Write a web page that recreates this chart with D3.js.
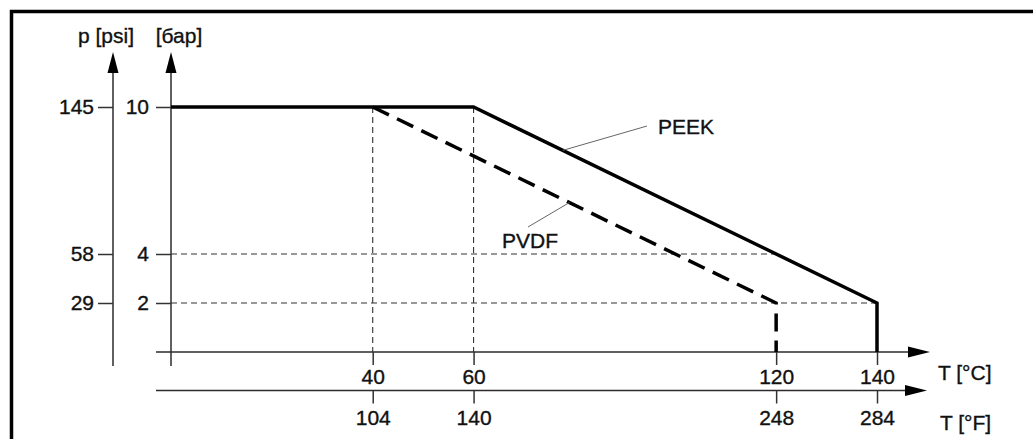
<!DOCTYPE html>
<meta charset="utf-8">
<script src="https://cdn.jsdelivr.net/npm/d3@7"></script>
<style>
    body {margin: 0; background: #fff;}
    #chart text {font-family: "Liberation Sans", Arial, sans-serif; font-size: 21px; fill: #111;
        stroke: #111; stroke-width: 0.35px;}
    .axis path.domain {display: none;}
    .axis line {stroke: #333; stroke-width: 1.5;}
</style>

<div id="chart"></div>

<script>
    // values
    let tempC = [40, 60, 120, 140];
    let tempF = [104, 140, 248, 284];
    let barTicks = [10, 4, 2];
    let psiTicks = [145, 58, 29];

    let peekT = [0, 60, 140, 140];
    let peekP = [10, 10, 2, 0];
    let pvdfT = [40, 120, 120];
    let pvdfP = [10, 2, 0];

    // thin dashed helper lines
    let guideVT = [40, 60];
    let guideHP = [4, 2];
    let guideHT = [120, 140];

    let width = 1033, height = 439;

    let x = d3.scaleLinear().domain([0, 140]).range([171, 877]);
    let xF = d3.scaleLinear().domain([32, 284]).range([171, 877]);
    let y = d3.scaleLinear().domain([0, 10]).range([352, 107]);
    let yPsi = d3.scaleLinear().domain([0, 145]).range([352, 107]);

    let svg = d3.select("#chart").append("svg")
        .attr("width", width)
        .attr("height", height);

    // frame (top and left edges visible)
    svg.append("path")
        .attr("d", "M11.5,439 V11.5 H1033")
        .attr("fill", "none")
        .attr("stroke", "#000")
        .attr("stroke-width", 3.5);

    // guides
    svg.selectAll(".gv")
        .data(guideVT)
        .enter().append("line")
        .attr("x1", d => x(d)).attr("x2", d => x(d))
        .attr("y1", y(10)).attr("y2", y(0))
        .attr("stroke", "#333").attr("stroke-width", 1.1)
        .attr("stroke-dasharray", "6,4");

    svg.selectAll(".gh")
        .data(guideHP)
        .enter().append("line")
        .attr("x1", x(0)).attr("x2", (d, i) => x(guideHT[i]))
        .attr("y1", d => y(d)).attr("y2", d => y(d))
        .attr("stroke", "#333").attr("stroke-width", 1.1)
        .attr("stroke-dasharray", "6,4");

    // axes lines with arrows
    let axisColor = "#2e2a2e";
    function arrowUp(cx, tip) {
        return "M" + cx + "," + tip + " L" + (cx - 5.5) + "," + (tip + 21) + " L" + (cx + 5.5) + "," + (tip + 21) + "Z";
    }
    function arrowRight(tip, cy) {
        return "M" + tip + "," + cy + " L" + (tip - 22) + "," + (cy - 5.5) + " L" + (tip - 22) + "," + (cy + 5.5) + "Z";
    }

    // y axes
    [113, 171].forEach(function(cx) {
        svg.append("line")
            .attr("x1", cx).attr("x2", cx)
            .attr("y1", 60).attr("y2", 366)
            .attr("stroke", axisColor).attr("stroke-width", 1.5);
        svg.append("path").attr("d", arrowUp(cx, 52)).attr("fill", "#000");
    });

    // x axes
    [[352, 930], [390.5, 927]].forEach(function(a) {
        svg.append("line")
            .attr("x1", 156).attr("x2", a[1] - 10)
            .attr("y1", a[0]).attr("y2", a[0])
            .attr("stroke", axisColor).attr("stroke-width", 1.5);
        svg.append("path").attr("d", arrowRight(a[1], a[0])).attr("fill", "#000");
    });

    // ticks
    svg.append("g").attr("class", "axis")
        .attr("transform", "translate(171,0)")
        .call(d3.axisLeft(y).tickValues(barTicks).tickSize(15).tickPadding(7).tickSizeOuter(0));

    svg.append("g").attr("class", "axis")
        .attr("transform", "translate(113,0)")
        .call(d3.axisLeft(yPsi).tickValues(psiTicks).tickSize(15).tickPadding(4).tickSizeOuter(0));

    svg.append("g").attr("class", "axis")
        .attr("transform", "translate(0,352)")
        .call(d3.axisBottom(x).tickValues(tempC).tickSize(13).tickPadding(4).tickSizeOuter(0));

    svg.append("g").attr("class", "axis")
        .attr("transform", "translate(0,390.5)")
        .call(d3.axisBottom(xF).tickValues(tempF).tickSize(13).tickPadding(7).tickSizeOuter(0));

    svg.selectAll(".axis text").style("fill", "#111");

    // axis titles
    svg.append("text").attr("x", 106).attr("y", 43).attr("text-anchor", "middle").text("p [psi]");
    svg.append("text").attr("x", 179).attr("y", 43).attr("text-anchor", "middle").text("[бар]");
    svg.append("text").attr("x", 938).attr("y", 380).text("T [°C]");
    svg.append("text").attr("x", 940).attr("y", 430).text("T [°F]");

    // data lines
    let line = d3.line().x(d => x(d[0])).y(d => y(d[1]));

    svg.append("path")
        .datum(peekT.map((t, i) => [t, peekP[i]]))
        .attr("d", line)
        .attr("fill", "none")
        .attr("stroke", "#000")
        .attr("stroke-width", 3.5);

    svg.append("path")
        .datum(pvdfT.map((t, i) => [t, pvdfP[i]]))
        .attr("d", line)
        .attr("fill", "none")
        .attr("stroke", "#000")
        .attr("stroke-width", 3.5)
        .attr("stroke-dasharray", "18,9");

    // labels with leader lines
    function valueAt(ts, ps, t) {
        for (let i = 0; i < ts.length - 1; i++) {
            if (t >= ts[i] && t <= ts[i + 1] && ts[i + 1] > ts[i]) {
                return ps[i] + (ps[i + 1] - ps[i]) * (t - ts[i]) / (ts[i + 1] - ts[i]);
            }
        }
        return ps[0];
    }

    let labels = [
        {name: "PEEK", t: 77.7, ts: peekT, ps: peekP, lx: 647, ly: 126, tx: 658, ty: 134},
        {name: "PVDF", t: 79, ts: pvdfT, ps: pvdfP, lx: 528, ly: 227, tx: 502, ty: 248}
    ];

    labels.forEach(function(l) {
        svg.append("line")
            .attr("x1", l.lx).attr("y1", l.ly)
            .attr("x2", x(l.t)).attr("y2", y(valueAt(l.ts, l.ps, l.t)))
            .attr("stroke", "#666").attr("stroke-width", 1);
        svg.append("text").attr("x", l.tx).attr("y", l.ty).text(l.name);
    });
</script>
